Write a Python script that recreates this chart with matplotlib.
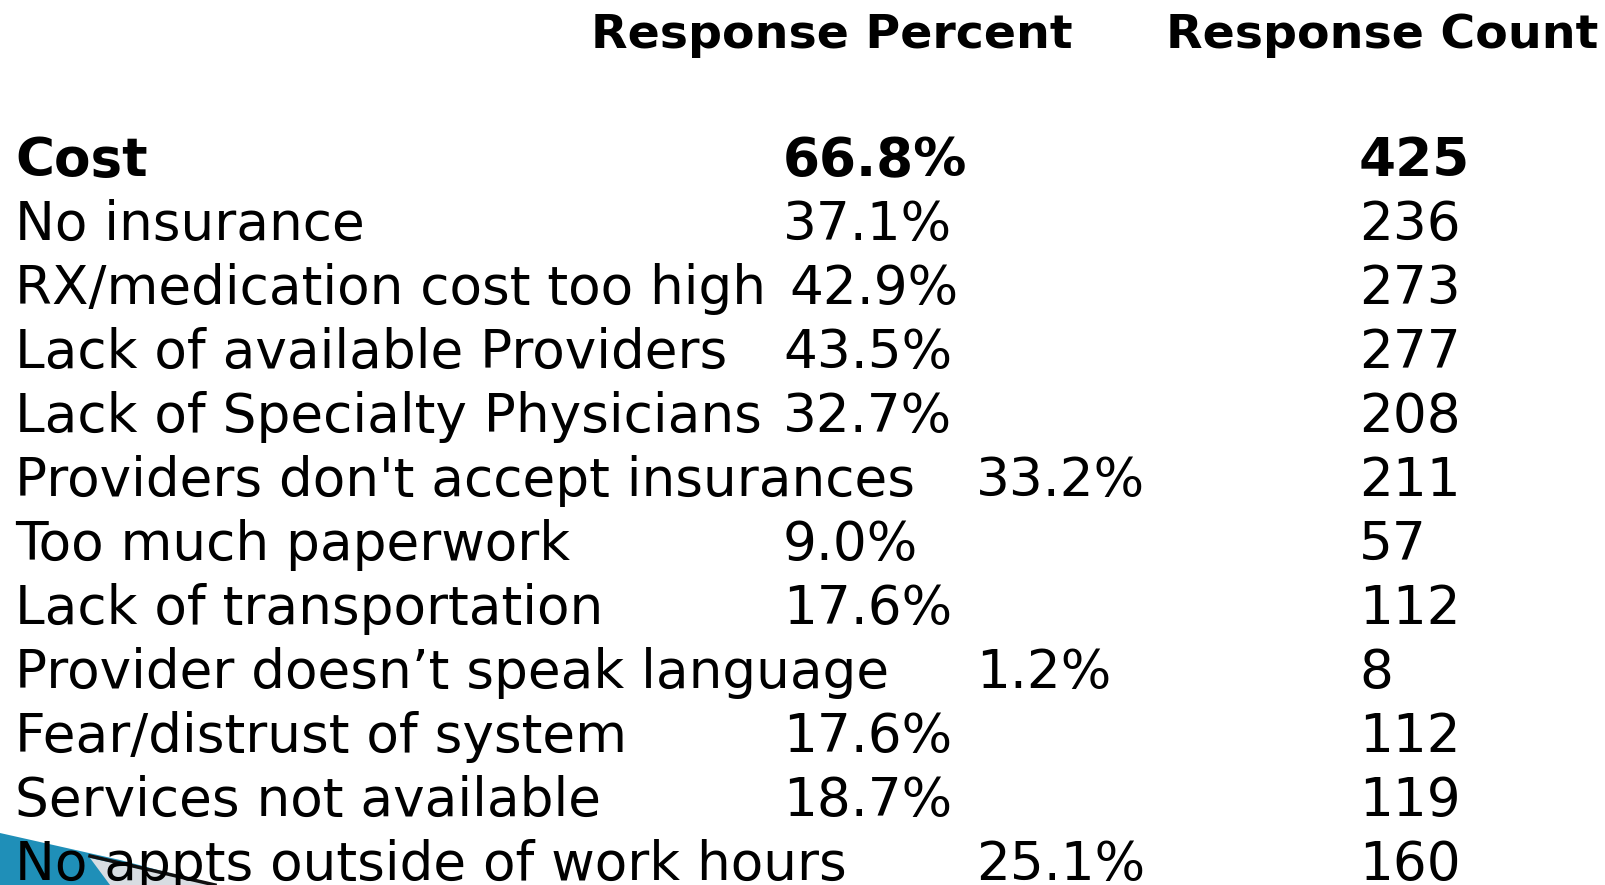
import matplotlib
matplotlib.use("Agg")
import matplotlib.pyplot as plt
from matplotlib.patches import Polygon

# survey table values
reasons = [
    "Cost",
    "No insurance",
    "RX/medication cost too high",
    "Lack of available Providers",
    "Lack of Specialty Physicians",
    "Providers don't accept insurances",
    "Too much paperwork",
    "Lack of transportation",
    "Provider doesn\u2019t speak language",
    "Fear/distrust of system",
    "Services not available",
    "No appts outside of work hours",
]
percents = [66.8, 37.1, 42.9, 43.5, 32.7, 33.2, 9.0, 17.6, 1.2, 17.6, 18.7, 25.1]
counts = [425, 236, 273, 277, 208, 211, 57, 112, 8, 112, 119, 160]

# rows whose percent sits further right (as typed on the slide)
far_right = [5, 8, 11]

W, H = 1606, 885
fig = plt.figure(figsize=(W / 100, H / 100), dpi=100)
ax = fig.add_axes([0, 0, 1, 1])
ax.set_xlim(0, W)
ax.set_ylim(H, 0)
ax.axis("off")

font = "DejaVu Sans"
row_fs = 38.3
head_fs = 34.2

ax.text(591, 48, "Response Percent", fontsize=head_fs, fontweight="bold",
        family=font, va="baseline", ha="left")
ax.text(1166, 48, "Response Count", fontsize=head_fs, fontweight="bold",
        family=font, va="baseline", ha="left")

# blue swoosh in the bottom-left corner of the slide
ax.add_patch(Polygon([(0, 833), (120, 860), (215, 885), (0, 885)],
                     closed=True, facecolor="#1f8fb8", edgecolor="none", zorder=0))
ax.add_patch(Polygon([(90, 858), (215, 885), (110, 885)],
                     closed=True, facecolor="#d8dde2", edgecolor="none", zorder=0))
ax.plot([90, 215], [856, 885], color="#111111", lw=2.5, zorder=0)

for i, (name, p, c) in enumerate(zip(reasons, percents, counts)):
    y = 176 + i * 64
    weight = "bold" if i == 0 else "normal"
    px = 976 if i in far_right else (789 if i == 2 else 783)
    ax.text(15, y, name, fontsize=row_fs, fontweight=weight, family=font,
            va="baseline", ha="left")
    ax.text(px, y, f"{p:.1f}%", fontsize=row_fs, fontweight=weight,
            family=font, va="baseline", ha="left")
    ax.text(1359, y, str(c), fontsize=row_fs, fontweight=weight,
            family=font, va="baseline", ha="left")

fig.savefig("out.png", dpi=100)
